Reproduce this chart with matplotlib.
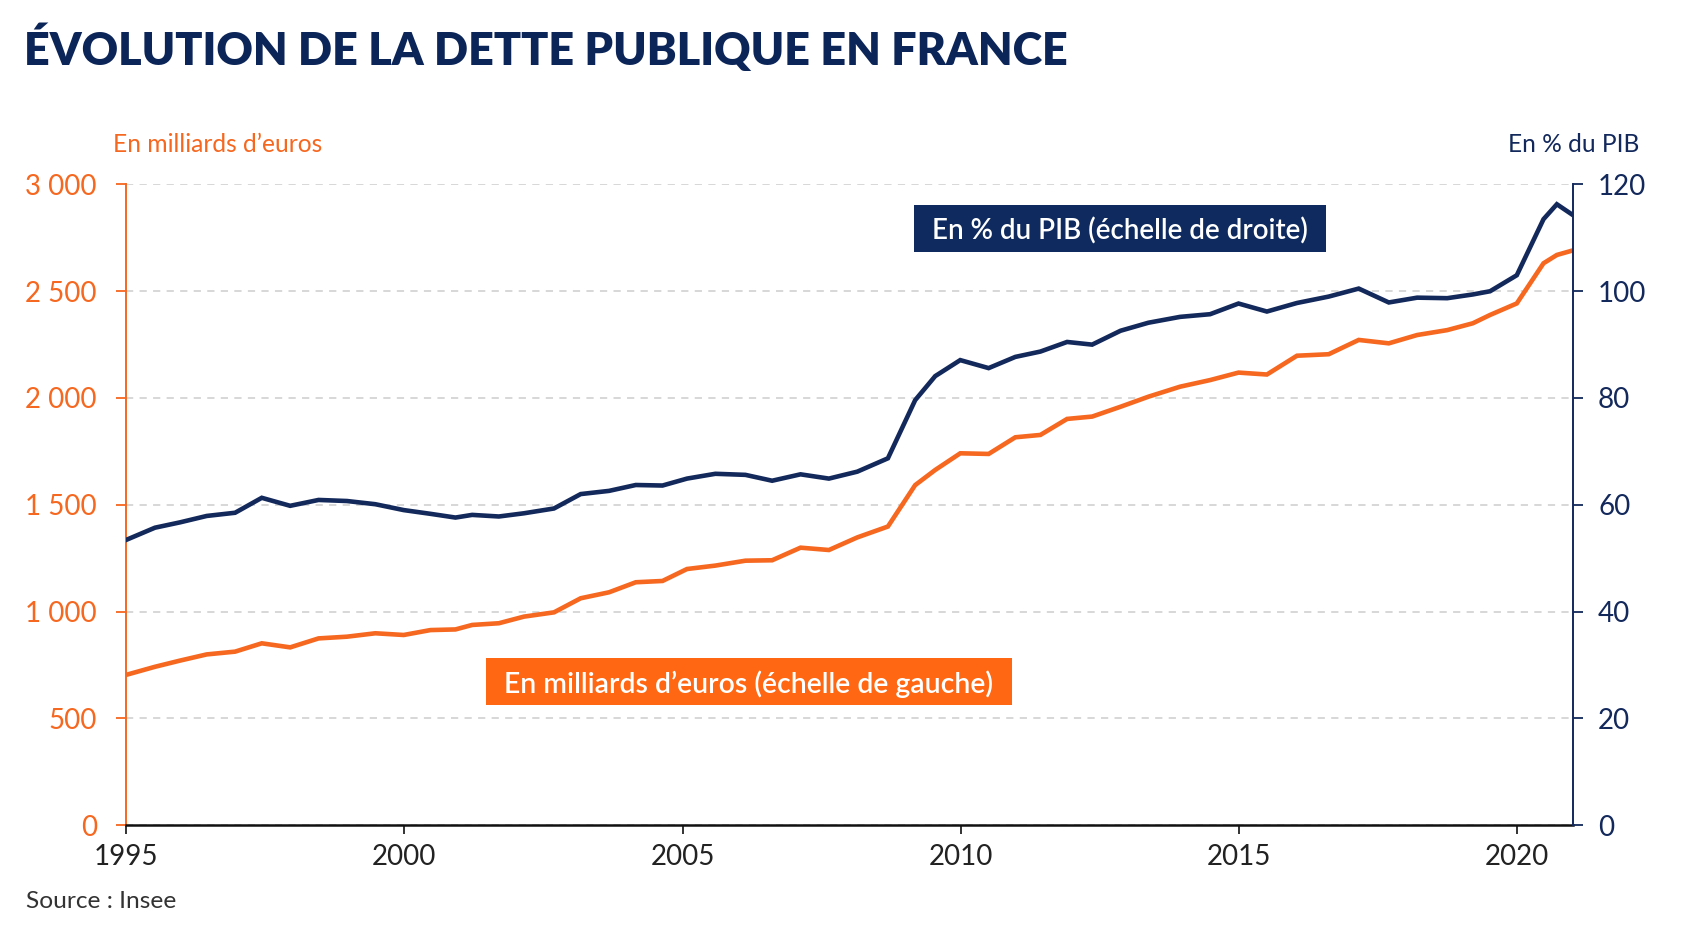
import matplotlib
matplotlib.use("Agg")
import matplotlib.pyplot as plt
from matplotlib.patches import Rectangle

# ---------------- data ----------------
years = [1995.00, 1995.52, 1995.97, 1996.45, 1996.96, 1997.44, 1997.95, 1998.46,
         1998.97, 1999.48, 1999.99, 2000.47, 2000.92, 2001.22, 2001.70, 2002.15,
         2002.69, 2003.17, 2003.68, 2004.16, 2004.64, 2005.08, 2005.59, 2006.13,
         2006.61, 2007.12, 2007.63, 2008.14, 2008.69, 2009.18, 2009.54, 2009.99,
         2010.50, 2010.98, 2011.43, 2011.91, 2012.36, 2012.87, 2013.37, 2013.94,
         2014.48, 2014.99, 2015.50, 2016.04, 2016.61, 2017.15, 2017.69, 2018.20,
         2018.74, 2019.20, 2019.51, 2019.99, 2020.47, 2020.71, 2020.98]

debt_pct = [53.4, 55.7, 56.7, 57.9, 58.5, 61.3, 59.8, 60.9,
            60.7, 60.1, 59.0, 58.3, 57.6, 58.1, 57.8, 58.4,
            59.3, 62.0, 62.6, 63.7, 63.6, 64.9, 65.8, 65.6,
            64.5, 65.7, 64.9, 66.2, 68.7, 79.6, 84.1, 87.1,
            85.6, 87.7, 88.7, 90.5, 90.0, 92.6, 94.1, 95.2,
            95.7, 97.7, 96.2, 97.8, 99.0, 100.5, 97.9, 98.8,
            98.7, 99.4, 100.0, 103.0, 113.5, 116.3, 114.4]

debt_bn = [703, 741, 770, 799, 812, 851, 832, 874,
           882, 898, 890, 913, 916, 937, 945, 976,
           996, 1062, 1090, 1137, 1143, 1199, 1215, 1238,
           1240, 1299, 1288, 1347, 1398, 1592, 1663, 1741,
           1738, 1816, 1827, 1902, 1913, 1959, 2006, 2053,
           2084, 2119, 2110, 2198, 2205, 2272, 2256, 2295,
           2318, 2350, 2389, 2443, 2631, 2670, 2690]

x_ticks = [1995, 2000, 2005, 2010, 2015, 2020]
x_tick_labels = ["1995", "2000", "2005", "2010", "2015", "2020"]
left_ticks = [0, 500, 1000, 1500, 2000, 2500, 3000]
left_tick_labels = ["0", "500", "1 000", "1 500", "2 000", "2 500", "3 000"]
right_ticks = [0, 20, 40, 60, 80, 100, 120]
right_tick_labels = ["0", "20", "40", "60", "80", "100", "120"]

title_text = "ÉVOLUTION DE LA DETTE PUBLIQUE EN FRANCE"
left_unit = "En milliards d\u2019euros"
right_unit = "En % du PIB"
label_pct = "En % du PIB (échelle de droite)"
label_bn = "En milliards d\u2019euros (échelle de gauche)"
source_text = "Source : Insee"

# ---------------- style ----------------
NAVY = "#13295c"
NAVY_BOX = "#0e2a5e"
TITLE_NAVY = "#0c2558"
ORANGE = "#f6671f"
ORANGE_BOX = "#ff6712"
GRID = "#d4d4d4"
DARK = "#222222"
FONT = ["Lato", "DejaVu Sans"]

W, H = 1691, 930
fig = plt.figure(figsize=(W / 100, H / 100), dpi=100)
fig.patch.set_facecolor("white")

L, R, B, T = 126, 1573, 825, 184.5
ax = fig.add_axes([L / W, 1 - B / H, (R - L) / W, (B - T) / H])
ax2 = ax.twinx()

ax.set_xlim(1995, 2021)
ax.set_ylim(0, 3000)
ax2.set_ylim(0, 120)

# gridlines
ax.set_yticks(left_ticks)
ax.set_yticklabels(left_tick_labels)
ax.yaxis.grid(True, color=GRID, linestyle=(0, (4, 3.5)), linewidth=1.3)
ax.set_axisbelow(True)

# lines
ax.plot(years, debt_bn, color=ORANGE, linewidth=3.3, solid_joinstyle="miter", zorder=3)
ax2.plot(years, debt_pct, color=NAVY, linewidth=3.3, solid_joinstyle="miter", zorder=3)

# spines
for s in ["top", "right"]:
    ax.spines[s].set_visible(False)
ax.spines["left"].set_color(ORANGE)
ax.spines["left"].set_linewidth(1.4)
ax.spines["bottom"].set_color("#111111")
ax.spines["bottom"].set_linewidth(1.8)
for s in ["top", "left", "bottom"]:
    ax2.spines[s].set_visible(False)
ax2.spines["right"].set_color(NAVY)
ax2.spines["right"].set_linewidth(1.4)

# ticks
ax.set_xticks(x_ticks)
ax.set_xticklabels(x_tick_labels)
ax.tick_params(axis="x", length=6.5, width=1.2, color="#111111", pad=7,
               labelsize=20, labelcolor=DARK)
ax.tick_params(axis="y", length=7, width=1.3, color=ORANGE, pad=14,
               labelsize=20, labelcolor=ORANGE)
ax2.set_yticks(right_ticks)
ax2.set_yticklabels(right_tick_labels)
ax2.tick_params(axis="y", length=7, width=1.3, color=NAVY, pad=11,
                labelsize=20, labelcolor=NAVY)
for lab in ax.get_xticklabels() + ax.get_yticklabels() + ax2.get_yticklabels():
    lab.set_family(FONT)

# texts
t_title = fig.text(24.5 / W, 1 - 65 / H, title_text, family=FONT, weight="heavy",
                   color=TITLE_NAVY, fontsize=33, ha="left", va="baseline")
t_left = fig.text(113 / W, 1 - 152 / H, left_unit, family=FONT, color=ORANGE,
                  fontsize=15, ha="left", va="baseline")
t_right = fig.text(1639 / W, 1 - 152 / H, right_unit, family=FONT, color=NAVY,
                   fontsize=15, ha="right", va="baseline")
t_src = fig.text(26 / W, 1 - 908 / H, source_text, family=FONT, color="#333333",
                 fontsize=15, ha="left", va="baseline")

# label boxes
fig.add_artist(Rectangle((914 / W, 1 - 252.5 / H), (1326 - 914) / W, 47.5 / H,
                         transform=fig.transFigure, facecolor=NAVY_BOX,
                         edgecolor="none", zorder=5))
t_pct = fig.text(1120 / W, 1 - 229 / H, label_pct, family=FONT, color="white",
                 weight="semibold", fontsize=18, ha="center", va="center_baseline", zorder=6)
fig.add_artist(Rectangle((486 / W, 1 - 705 / H), (1012 - 486) / W, 47 / H,
                         transform=fig.transFigure, facecolor=ORANGE_BOX,
                         edgecolor="none", zorder=5))
t_bn = fig.text(749 / W, 1 - 682 / H, label_bn, family=FONT, color="white",
                weight="semibold", fontsize=18, ha="center", va="center_baseline", zorder=6)

# fit text widths to the reference layout
fig.canvas.draw()
rend = fig.canvas.get_renderer()
for t, target in [(t_title, 1046), (t_left, 210), (t_right, 131), (t_src, 150),
                  (t_pct, 375), (t_bn, 490)]:
    w = t.get_window_extent(rend).width
    t.set_fontsize(t.get_fontsize() * target / w)

fig.savefig("out.png", dpi=100, facecolor="white")
